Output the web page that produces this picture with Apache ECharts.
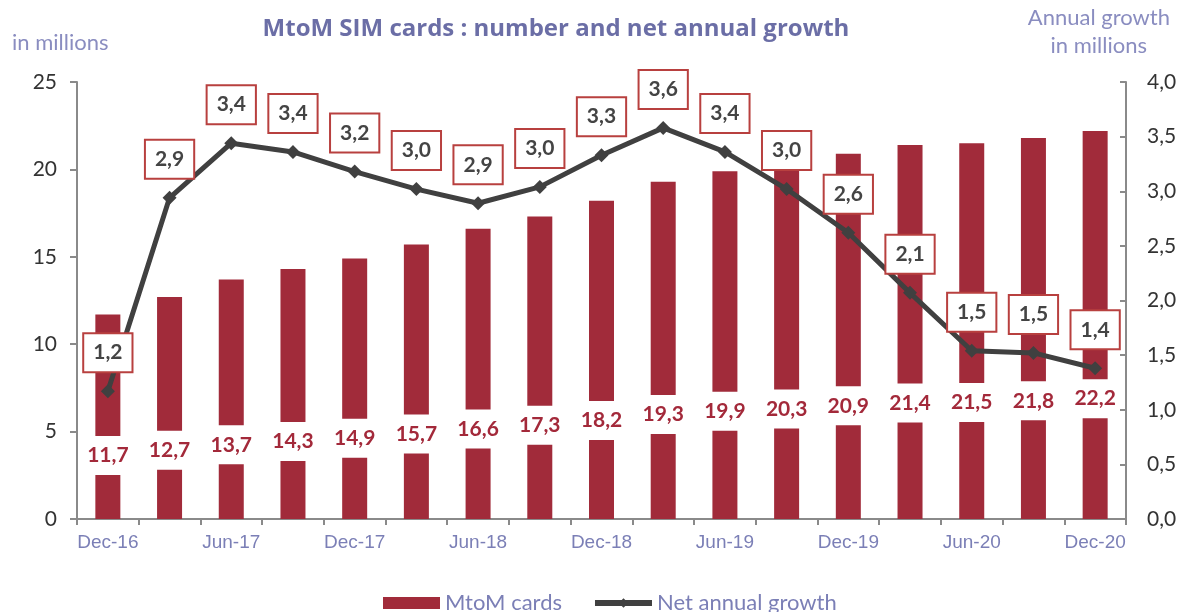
<!DOCTYPE html>
<html>
<head>
<meta charset="utf-8">
<script src="https://cdn.jsdelivr.net/npm/echarts@6/dist/echarts.min.js"></script>
<style>
html,body{margin:0;padding:0;background:#fff;}
#chart{width:1181px;height:612px;}
</style>
</head>
<body>
<div id="chart"></div>
<script>
const categories = ['Dec-16','Mar-17','Jun-17','Sep-17','Dec-17','Mar-18','Jun-18','Sep-18','Dec-18','Mar-19','Jun-19','Sep-19','Dec-19','Mar-20','Jun-20','Sep-20','Dec-20'];
const mtomCards = [11.7,12.7,13.7,14.3,14.9,15.7,16.6,17.3,18.2,19.3,19.9,20.3,20.9,21.4,21.5,21.8,22.2];
const netGrowth = [1.17,2.94,3.44,3.36,3.18,3.02,2.89,3.04,3.33,3.58,3.36,3.02,2.62,2.07,1.54,1.52,1.38];
const leftTicks = [0,5,10,15,20,25];
const rightTicks = [0,0.5,1,1.5,2,2.5,3,3.5,4];

const fmt = v => v.toFixed(1).replace('.', ',');
const FONT = 'Lato';
const axisGray = '#8a8a8a';
const barColor = '#A12B3A';
const lavender = '#7b7fb6';

const chart = echarts.init(document.getElementById('chart'));
chart.setOption({
  animation: false,
  textStyle: {fontFamily: FONT},
  title: {
    text: 'MtoM SIM cards : number and net annual growth',
    left: 551, top: 12, textAlign: 'center',
    textStyle: {fontFamily: 'Open Sans', fontSize: 24, fontWeight: 'bold', color: '#6b6ea6'}
  },
  graphic: [
    {type: 'text', left: 12, top: 32, style: {text: 'in millions', font: '22px Lato', fill: '#8a8dc0'}},
    {type: 'text', right: 11, top: 7, style: {text: 'Annual growth', font: '22px Lato', fill: '#8a8dc0'}},
    {type: 'text', right: 34, top: 35, style: {text: 'in millions', font: '22px Lato', fill: '#8a8dc0'}}
  ],
  legend: {
    bottom: -7, left: 378, itemGap: 30, itemWidth: 57, itemHeight: 12,
    textStyle: {fontFamily: FONT, fontSize: 22, color: lavender},
    data: [
      {name: 'MtoM cards', icon: 'rect'},
      {name: 'Net annual growth', lineStyle: {width: 6, color: '#404040'}, itemStyle: {color: '#404040'}}
    ]
  },
  grid: {left: 77, right: 55, top: 82, bottom: 93, containLabel: false},
  xAxis: {
    type: 'category', data: categories, boundaryGap: true,
    axisLine: {lineStyle: {color: axisGray, width: 2}},
    axisTick: {show: true, interval: 0, length: 6, lineStyle: {color: axisGray, width: 2}},
    axisLabel: {interval: 1, margin: 14, fontFamily: 'Liberation Sans', fontSize: 19, color: lavender}
  },
  yAxis: [
    {
      type: 'value', min: 0, max: 25, interval: 5,
      axisLine: {show: true, lineStyle: {color: axisGray, width: 2}},
      axisTick: {show: true, length: 7, lineStyle: {color: axisGray, width: 2}},
      splitLine: {show: false},
      axisLabel: {margin: 20, fontSize: 21, color: '#333', fontFamily: FONT,
        formatter: v => leftTicks.includes(v) ? String(v) : ''}
    },
    {
      type: 'value', min: 0, max: 4, interval: 0.5, position: 'right',
      axisLine: {show: true, lineStyle: {color: axisGray, width: 2}},
      axisTick: {show: true, inside: true, length: 6, lineStyle: {color: axisGray, width: 2}},
      splitLine: {show: false},
      axisLabel: {margin: 21, fontSize: 21, color: '#333', fontFamily: FONT,
        formatter: v => rightTicks.includes(v) ? fmt(v) : ''}
    }
  ],
  series: [
    {
      name: 'MtoM cards', type: 'bar', data: mtomCards, barWidth: 25, yAxisIndex: 0,
      itemStyle: {color: barColor},
      label: {
        show: true, position: ['50%', '69%'], align: 'center', verticalAlign: 'middle',
        formatter: p => fmt(p.value),
        fontFamily: FONT, fontSize: 21, fontWeight: 'bold', color: '#a3293a',
        backgroundColor: '#fff', padding: [9, 3], lineHeight: 21
      }
    },
    {
      name: 'Net annual growth', type: 'line', data: netGrowth, yAxisIndex: 1, z: 5,
      symbol: 'diamond', symbolSize: 14,
      lineStyle: {color: '#404040', width: 5},
      itemStyle: {color: '#404040'},
      label: {
        show: true, position: 'top', distance: 13,
        formatter: p => fmt(p.value),
        fontFamily: FONT, fontSize: 21, fontWeight: 'bold', color: '#444',
        backgroundColor: '#fff', borderColor: '#b8403f', borderWidth: 2,
        padding: [8, 9], lineHeight: 21
      }
    }
  ]
});
</script>
</body>
</html>
